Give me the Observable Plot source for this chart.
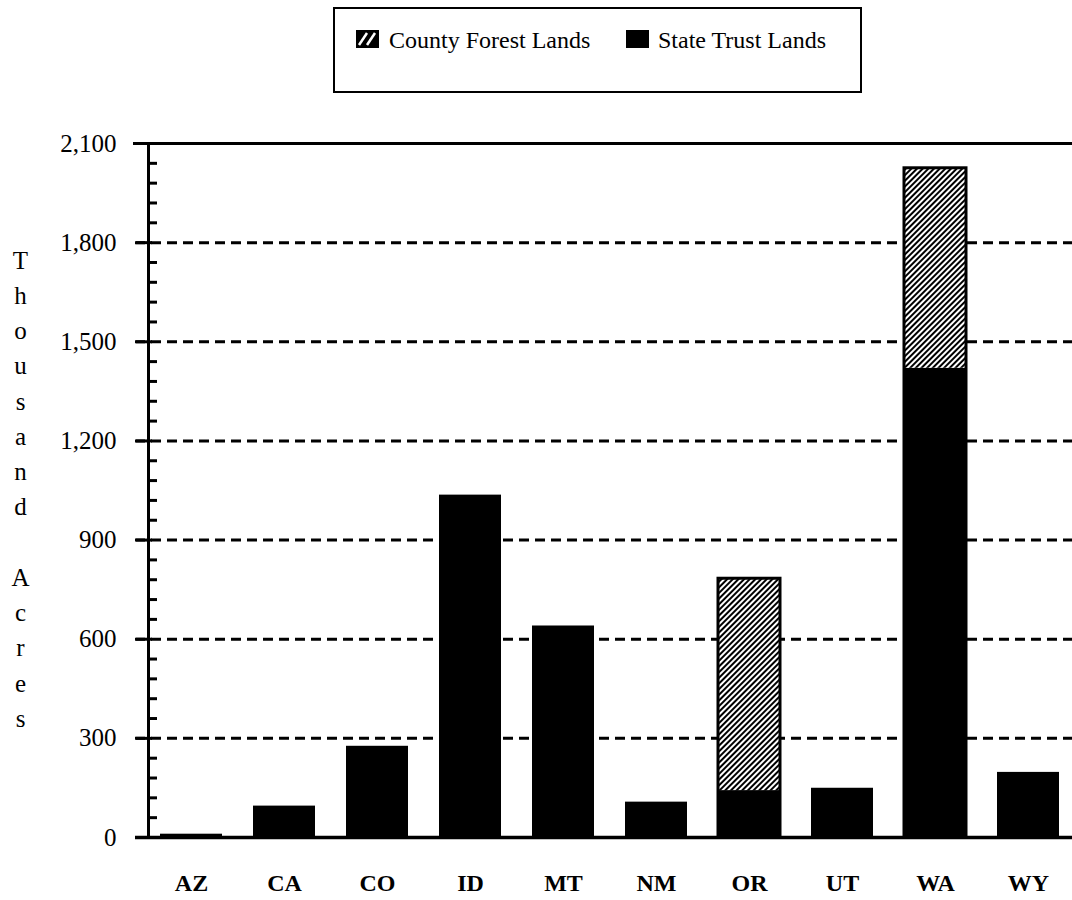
<!DOCTYPE html>
<html><head><meta charset="utf-8">
<script src="https://cdn.jsdelivr.net/npm/d3@7"></script>
<script src="https://cdn.jsdelivr.net/npm/@observablehq/plot@0.6"></script>
<style>
body{margin:0;background:#fff;font-family:"Liberation Serif",serif;color:#000;}
#legend{position:relative;height:100px;width:1072px;}
#legend .box{position:absolute;left:333px;top:7px;width:529px;height:86px;box-sizing:border-box;border:2.5px solid #000;}
#legend .sw{position:absolute;top:30px;width:23px;height:18px;}
#legend .lab{position:absolute;top:28px;font-size:24px;line-height:24px;white-space:nowrap;}
</style>
</head><body>
<div id="legend">
  <div class="box"></div>
  <svg class="sw" style="left:356px" viewBox="0 0 23 18"><rect width="23" height="18" fill="#000"/><line x1="3" y1="15" x2="11" y2="3" stroke="#fff" stroke-width="2.5"/><line x1="11" y1="15" x2="19" y2="3" stroke="#fff" stroke-width="2.5"/></svg>
  <div class="lab" style="left:389px">County Forest Lands</div>
  <svg class="sw" style="left:626px" viewBox="0 0 23 18"><rect width="23" height="18" fill="#000"/></svg>
  <div class="lab" style="left:658px">State Trust Lands</div>
</div>
<div id="chart"></div>
<script>
const states = ["AZ","CA","CO","ID","MT","NM","OR","UT","WA","WY"];
const stateTrust = [10, 95, 276, 1036, 640, 107, 142, 149, 1420, 197];
const countyForest = [0, 0, 0, 0, 0, 0, 641, 0, 605, 0];
const yTicks = [0, 300, 600, 900, 1200, 1500, 1800, 2100];
const gridTicks = [300, 600, 900, 1200, 1500, 1800];
const minorTicks = d3.range(0, 2101, 60).filter(v => v % 300 !== 0);
const yTitle = "T\nh\no\nu\ns\na\nn\nd\n\nA\nc\nr\ne\ns";

const rows = states.map((s, i) => ({state: s, trust: stateTrust[i], county: countyForest[i], total: stateTrust[i] + countyForest[i]}));
const countyRows = rows.filter(d => d.county > 0);

const plot = Plot.plot({
  width: 1072, height: 798,
  marginLeft: 148, marginRight: 0, marginTop: 43, marginBottom: 61,
  style: {fontFamily: "Liberation Serif", background: "white", color: "black"},
  x: {domain: states, paddingInner: 0.33, paddingOuter: 0.106, align: 0.5, label: null},
  y: {domain: [0, 2100], label: null},
  marks: [
    Plot.ruleY(gridTicks, {stroke: "black", strokeWidth: 3, strokeDasharray: "10,6", insetLeft: -13}),
    Plot.ruleY([2100], {stroke: "black", strokeWidth: 3, insetLeft: -15}),
    Plot.barY(rows, {x: "state", y1: 0, y2: "trust", fill: "black"}),
    Plot.barY(countyRows, {x: "state", y1: "trust", y2: "total", fill: "url(#hatch)"}),
    Plot.barY(countyRows, {x: "state", y1: 0, y2: "total", fill: "none", stroke: "black", strokeWidth: 3}),
    Plot.ruleY([0], {stroke: "black", strokeWidth: 3.5, insetLeft: -13}),
    Plot.frame({anchor: "left", stroke: "black", strokeWidth: 3}),
    Plot.axisY({ticks: yTicks, tickFormat: d3.format(",d"), tickSize: 16, dx: 4, tickPadding: 20, strokeWidth: 3, fontSize: 25, label: null}),
    Plot.axisY({ticks: minorTicks, tickSize: 9, dx: 9, text: null, strokeWidth: 3, label: null}),
    Plot.axisX({tickSize: 0, tickPadding: 36, fontSize: 24, fontWeight: "bold", label: null}),
    Plot.text([yTitle], {frameAnchor: "left", dx: -128, dy: -4, fontSize: 25, lineHeight: 1.41, textAnchor: "middle"})
  ]
});

const defs = document.createElementNS("http://www.w3.org/2000/svg", "defs");
defs.innerHTML = '<pattern id="hatch" patternUnits="userSpaceOnUse" width="4" height="4" patternTransform="rotate(45)"><rect width="4" height="4" fill="white"/><rect x="0" y="0" width="2" height="4" fill="black"/></pattern>';
plot.prepend(defs);
document.getElementById("chart").appendChild(plot);
</script>
</body></html>
